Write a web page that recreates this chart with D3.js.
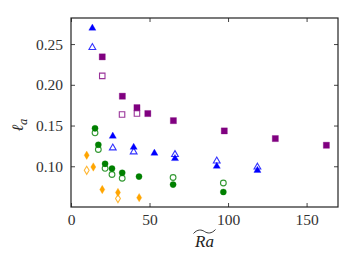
<!DOCTYPE html>
<html lang="en">
<head>
<meta charset="UTF-8">
<script src="https://cdn.jsdelivr.net/npm/d3@7"></script>
<style>
  body { margin: 0; background: #fff; }
  text { font-family: "Liberation Serif", "DejaVu Serif", serif; }
</style>
</head>
<body>
<svg id="chart" width="357" height="268"></svg>
<script>
// Ra~ values and l_a values, per series (filled = solid markers, open = hollow markers)
const blueFilledX = [13.6, 26.6, 39.9, 53.1, 66.2, 92.8, 118.7];
const blueFilledY = [0.2695, 0.1369, 0.1233, 0.116, 0.1095, 0.100, 0.095];
const blueOpenX = [13.6, 26.6, 39.9, 66.2, 92.8, 118.7];
const blueOpenY = [0.2458, 0.1225, 0.1176, 0.1144, 0.1065, 0.099];

const purpleFilledX = [19.9, 32.7, 42.0, 48.9, 65.2, 97.6, 130.1, 162.6];
const purpleFilledY = [0.2343, 0.186, 0.172, 0.1647, 0.156, 0.1434, 0.134, 0.1258];
const purpleOpenX = [19.9, 32.5, 42.0];
const purpleOpenY = [0.211, 0.1635, 0.1647];

const greenFilledX = [15.3, 17.4, 21.7, 26.1, 32.6, 43.3, 65.0, 97.0];
const greenFilledY = [0.1466, 0.1264, 0.103, 0.0972, 0.092, 0.0873, 0.0775, 0.0684];
const greenOpenX = [15.3, 17.4, 21.7, 26.1, 32.6, 65.0, 97.0];
const greenOpenY = [0.141, 0.1206, 0.0975, 0.0899, 0.0853, 0.0862, 0.0795];

const orangeFilledX = [10.0, 14.2, 19.9, 29.9, 43.4];
const orangeFilledY = [0.1135, 0.0991, 0.0714, 0.0678, 0.0615];
const orangeOpenX = [10.0, 29.9];
const orangeOpenY = [0.0951, 0.0604];

const xTicks = [0, 50, 100, 150];
const yTicks = [0.10, 0.15, 0.20, 0.25];

const W = 357, H = 268;
const margin = { top: 18, right: 19, bottom: 61, left: 71 };

const svg = d3.select("#chart");

const x = d3.scaleLinear().domain([0, 170]).range([margin.left, W - margin.right]);
const y = d3.scaleLinear().domain([0.05, 0.282]).range([H - margin.bottom, margin.top]);

// thin diamond like matplotlib "d"
const thinDiamond = {
    draw(ctx, size) {
        const h = Math.sqrt(size) * 0.5;
        const w = h * 0.6;
        ctx.moveTo(0, -h);
        ctx.lineTo(w, 0);
        ctx.lineTo(0, h);
        ctx.lineTo(-w, 0);
        ctx.closePath();
    }
};

function zip(xs, ys) {
    return xs.map((v, i) => ({ x: v, y: ys[i] }));
}

function drawSeries(xs, ys, symbolType, size, color, filled) {
    const sym = d3.symbol().type(symbolType).size(size);
    svg.append("g")
        .selectAll("path")
        .data(zip(xs, ys))
        .join("path")
        .attr("d", sym)
        .attr("transform", d => `translate(${x(d.x)},${y(d.y)})`)
        .attr("fill", filled ? color : "none")
        .attr("stroke", color)
        .attr("stroke-opacity", filled ? 0.5 : 0.8)
        .attr("stroke-width", filled ? 0.6 : 1.1);
}

drawSeries(orangeOpenX, orangeOpenY, thinDiamond, 66, "#ffa500", false);
drawSeries(orangeFilledX, orangeFilledY, thinDiamond, 72, "#ffa500", true);
drawSeries(greenOpenX, greenOpenY, d3.symbolCircle, 26, "#008000", false);
drawSeries(greenFilledX, greenFilledY, d3.symbolCircle, 30, "#008000", true);
drawSeries(blueOpenX, blueOpenY, d3.symbolTriangle, 20, "#0000ff", false);
drawSeries(blueFilledX, blueFilledY, d3.symbolTriangle, 22, "#0000ff", true);
drawSeries(purpleOpenX, purpleOpenY, d3.symbolSquare, 30, "#800080", false);
drawSeries(purpleFilledX, purpleFilledY, d3.symbolSquare, 38, "#800080", true);

// axes, ticks pointing inwards on all four sides
const axisColor = "#222";
const tickLen = 4;

svg.append("g")
    .attr("transform", `translate(0,${H - margin.bottom})`)
    .call(d3.axisBottom(x).tickValues(xTicks).tickSizeInner(-tickLen).tickSizeOuter(0).tickPadding(7).tickFormat(d3.format("d")));
svg.append("g")
    .attr("transform", `translate(0,${margin.top})`)
    .call(d3.axisTop(x).tickValues(xTicks).tickSizeInner(-tickLen).tickSizeOuter(0).tickFormat(""));
svg.append("g")
    .attr("transform", `translate(${margin.left},0)`)
    .call(d3.axisLeft(y).tickValues(yTicks).tickSizeInner(-tickLen).tickSizeOuter(0).tickPadding(8).tickFormat(d3.format(".2f")));
svg.append("g")
    .attr("transform", `translate(${W - margin.right},0)`)
    .call(d3.axisRight(y).tickValues(yTicks).tickSizeInner(-tickLen).tickSizeOuter(0).tickFormat(""));

svg.selectAll(".domain").remove();
svg.selectAll(".tick line").attr("stroke", "#444").attr("stroke-width", 1);
svg.selectAll(".tick text")
    .attr("fill", "#333")
    .attr("font-family", null)
    .style("font-size", "15.5px")
    .style("font-family", "'Liberation Serif', serif");

svg.append("rect")
    .attr("x", margin.left)
    .attr("y", margin.top)
    .attr("width", W - margin.left - margin.right)
    .attr("height", H - margin.top - margin.bottom)
    .attr("fill", "none")
    .attr("stroke", axisColor)
    .attr("stroke-width", 1.2);

// x label: Ra with a wide tilde
const xLab = svg.append("g").attr("transform", `translate(${x(85)},0)`);
xLab.append("text")
    .attr("x", 0)
    .attr("y", 247)
    .attr("text-anchor", "middle")
    .attr("fill", "#222")
    .style("font-size", "17px")
    .style("font-style", "italic")
    .style("font-family", "'Liberation Serif', serif")
    .text("Ra");
xLab.append("path")
    .attr("d", "M-11,233.5 C-7,229 -3,229.5 0,231.5 C3,233.5 7,234 11,229.5")
    .attr("fill", "none")
    .attr("stroke", "#222")
    .attr("stroke-width", 0.9);

// y label: l_a, rotated
const yLab = svg.append("text")
    .attr("transform", "translate(23,125) rotate(-90)")
    .attr("text-anchor", "middle")
    .attr("fill", "#222")
    .style("font-family", "'DejaVu Serif', serif");
yLab.append("tspan").style("font-size", "16px").style("font-style", "italic").text("\u2113");
yLab.append("tspan").style("font-size", "11px").style("font-style", "italic").attr("dy", 4).text("a");
</script>
</body>
</html>
